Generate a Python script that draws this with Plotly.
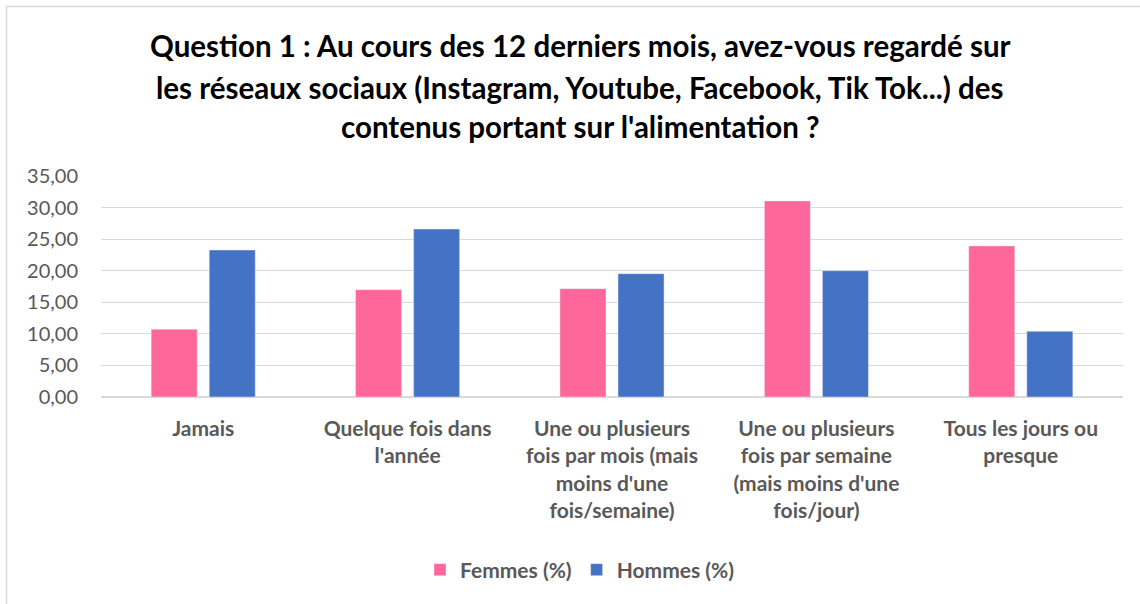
import plotly.graph_objects as go

categories = [
    "Jamais",
    "Quelque fois dans<br>l'année",
    "Une ou plusieurs<br>fois par mois (mais<br>moins d'une<br>fois/semaine)",
    "Une ou plusieurs<br>fois par semaine<br>(mais moins d'une<br>fois/jour)",
    "Tous les jours ou<br>presque",
]
femmes = [10.72, 17.00, 17.16, 31.05, 23.92]
hommes = [23.28, 26.60, 19.53, 20.00, 10.40]
series_names = ["Femmes (%)", "Hommes (%)"]
title_lines = [
    "Question 1 : Au cours des 12 derniers mois, avez-vous regardé sur",
    "les réseaux sociaux (Instagram, Youtube, Facebook, Tik Tok...) des",
    "contenus portant sur l'alimentation ?",
]
y_ticks = [0, 5, 10, 15, 20, 25, 30, 35]

W, H = 1140, 604
L, R, T, B = 101, 17, 176, 207
ph = H - T - B
pw = W - L - R

def py(px_y):
    return (H - B - px_y) / ph

def pxx(px_x):
    return (px_x - L) / pw

FONT = "Lato"
GRAY = "#595959"

fig = go.Figure()
fig.add_trace(go.Bar(x=list(range(len(categories))), y=femmes,
                     name="<b>" + series_names[0] + "</b>",
                     marker=dict(color="#FF6699")))
fig.add_trace(go.Bar(x=list(range(len(categories))), y=hommes,
                     name="<b>" + series_names[1] + "</b>",
                     marker=dict(color="#4472C4")))

title_y = [45, 87, 127]
for line, yy in zip(title_lines, title_y):
    fig.add_annotation(text="<b>" + line + "</b>", xref="paper", yref="paper",
                       x=pxx(580), y=py(yy), xanchor="center", yanchor="middle",
                       showarrow=False, font=dict(family=FONT, size=29.5, color="#000000"))

fig.add_shape(type="rect", xref="paper", yref="paper",
              x0=pxx(6.5), x1=pxx(1160), y0=py(630), y1=py(6.5),
              line=dict(color="#D9D9D9", width=1.5), fillcolor="rgba(0,0,0,0)", layer="below")

fig.update_layout(
    width=W, height=H,
    margin=dict(l=L, r=R, t=T, b=B),
    paper_bgcolor="white", plot_bgcolor="white",
    barmode="group", bargap=0.432, bargroupgap=0.207,
    separators=", ",
    showlegend=True,
    legend=dict(orientation="h", x=pxx(580), y=py(570), xanchor="center", yanchor="middle",
                font=dict(family=FONT, size=21, color=GRAY), itemwidth=30,
                traceorder="normal"),
    font=dict(family=FONT, color=GRAY),
)
fig.update_xaxes(
    range=[-0.5, len(categories) - 0.5],
    tickvals=list(range(len(categories))),
    ticktext=["<b>" + c + "</b>" for c in categories],
    tickfont=dict(family=FONT, size=21, color=GRAY),
    showgrid=False, showline=False, ticks="", ticklabelstandoff=17,
)
fig.update_yaxes(
    range=[0, 35], tickvals=y_ticks, tickformat=".2f",
    tickfont=dict(family=FONT, size=20, color=GRAY),
    showgrid=True, gridcolor="#D9D9D9", gridwidth=1.3,
    zeroline=True, zerolinecolor="#D9D9D9", zerolinewidth=1.5,
    showline=False, ticks="", ticklabelstandoff=22,
)

fig.write_html("out.html", config={"displayModeBar": False},
               post_script="document.body.style.margin='0';")
